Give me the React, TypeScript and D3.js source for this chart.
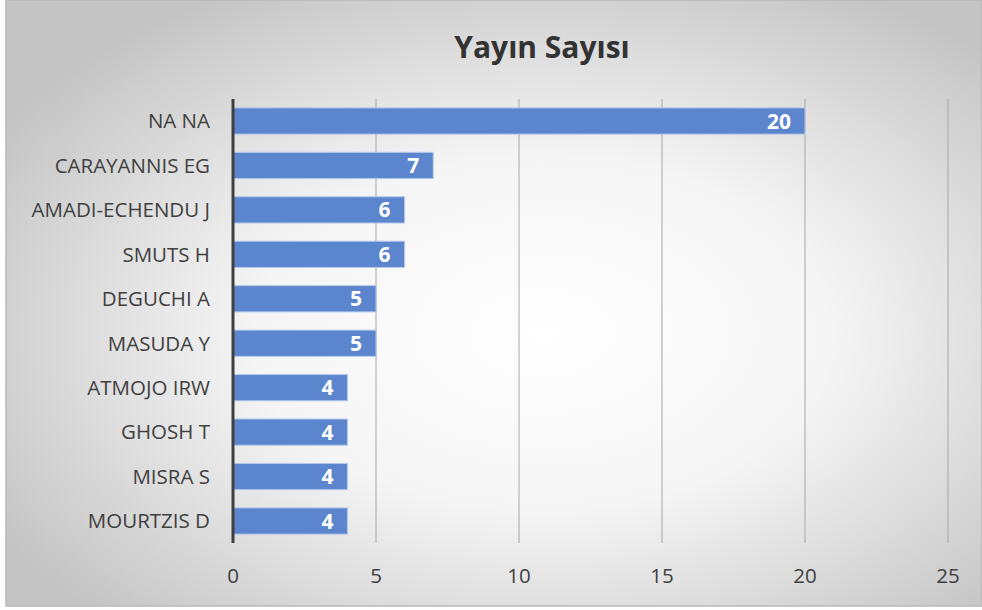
import * as d3 from "d3";
import { useEffect, useRef } from "react";

const authors = [
  "NA NA",
  "CARAYANNIS EG",
  "AMADI-ECHENDU J",
  "SMUTS H",
  "DEGUCHI A",
  "MASUDA Y",
  "ATMOJO IRW",
  "GHOSH T",
  "MISRA S",
  "MOURTZIS D",
];
const counts = [20, 7, 6, 6, 5, 5, 4, 4, 4, 4];
const xTicks = [0, 5, 10, 15, 20, 25];
const title = "Yayın Sayısı";

const W = 982;
const H = 610;
const font = "'Open Sans', 'DejaVu Sans', sans-serif";

const App = () => {
  const svgRef = useRef<SVGSVGElement | null>(null);

  useEffect(() => {
    const svg = d3.select(svgRef.current);
    svg.selectAll("*").remove();

    const margin = { top: 99, bottom: 67, left: 233, right: 34 };

    const defs = svg.append("defs");
    const grad = defs.append("radialGradient")
      .attr("id", "bg")
      .attr("cx", "55%")
      .attr("cy", "55%")
      .attr("r", "65%");
    grad.append("stop").attr("offset", "0%").attr("stop-color", "#ffffff");
    grad.append("stop").attr("offset", "45%").attr("stop-color", "#f5f5f5");
    grad.append("stop").attr("offset", "100%").attr("stop-color", "#c4c4c4");

    svg.append("rect").attr("width", W).attr("height", H).attr("fill", "#ffffff");
    svg.append("rect")
      .attr("x", 6).attr("y", 0)
      .attr("width", W - 6).attr("height", 606)
      .attr("fill", "url(#bg)")
      .attr("stroke", "#b8b8b8")
      .attr("stroke-width", 1.5);

    const x = d3.scaleLinear()
      .domain([0, 25])
      .range([margin.left, W - margin.right]);

    const y = d3.scaleBand()
      .domain(authors)
      .range([margin.top, H - margin.bottom])
      .paddingInner(0.41)
      .paddingOuter(0.2);

    // grid lines
    svg.append("g")
      .selectAll("line")
      .data(xTicks.filter(t => t > 0))
      .enter()
      .append("line")
      .attr("x1", d => x(d))
      .attr("x2", d => x(d))
      .attr("y1", margin.top)
      .attr("y2", H - margin.bottom)
      .attr("stroke", "#a6a6a6")
      .attr("stroke-width", 1);

    // bars
    svg.append("g")
      .selectAll("rect")
      .data(counts)
      .enter()
      .append("rect")
      .attr("x", x(0))
      .attr("y", (d, i) => y(authors[i])!)
      .attr("width", d => x(d) - x(0))
      .attr("height", y.bandwidth())
      .attr("fill", "#5b85cd")
      .attr("stroke", "#b4c8ea")
      .attr("stroke-width", 1);

    // value labels
    svg.append("g")
      .selectAll("text")
      .data(counts)
      .enter()
      .append("text")
      .attr("x", d => x(d) - 14)
      .attr("y", (d, i) => y(authors[i])! + y.bandwidth() / 2)
      .attr("dy", "0.36em")
      .attr("text-anchor", "end")
      .attr("fill", "#ffffff")
      .style("font-family", font)
      .style("font-size", "21px")
      .style("font-weight", "bold")
      .text(d => d);

    // y axis line
    svg.append("line")
      .attr("x1", x(0))
      .attr("x2", x(0))
      .attr("y1", margin.top)
      .attr("y2", H - margin.bottom)
      .attr("stroke", "#404040")
      .attr("stroke-width", 3);

    // category labels
    svg.append("g")
      .selectAll("text")
      .data(authors)
      .enter()
      .append("text")
      .attr("x", 210)
      .attr("y", d => y(d)! + y.bandwidth() / 2)
      .attr("dy", "0.36em")
      .attr("text-anchor", "end")
      .attr("fill", "#404040")
      .style("font-family", font)
      .style("font-size", "20.5px")
      .text(d => d);

    // x tick labels
    svg.append("g")
      .selectAll("text")
      .data(xTicks)
      .enter()
      .append("text")
      .attr("x", d => x(d))
      .attr("y", 583)
      .attr("text-anchor", "middle")
      .attr("fill", "#404040")
      .style("font-family", font)
      .style("font-size", "20.5px")
      .text(d => d);

    svg.append("text")
      .attr("x", 542)
      .attr("y", 58)
      .attr("text-anchor", "middle")
      .attr("fill", "#333333")
      .style("font-family", font)
      .style("font-size", "30px")
      .style("font-weight", "bold")
      .text(title);
  }, []);

  return (
    <svg
      ref={svgRef}
      width={W}
      height={H}
      style={{ position: "absolute", left: 0, top: 0 }}
    />
  );
};

export default App;
